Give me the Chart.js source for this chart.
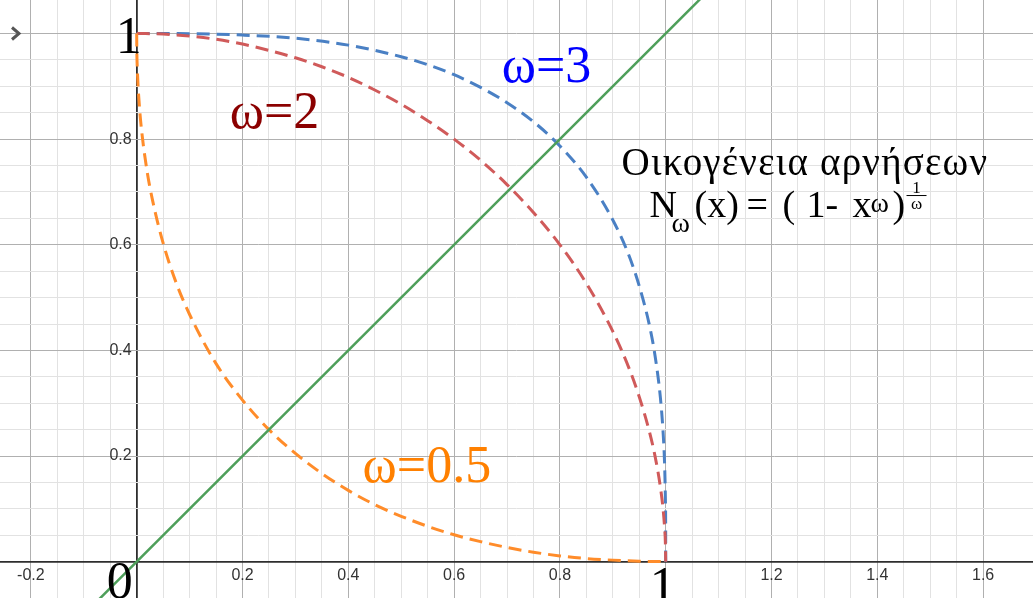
<!DOCTYPE html>
<html>
<head>
<meta charset="utf-8">
<title>Οικογένεια αρνήσεων</title>
<script src="https://cdn.jsdelivr.net/npm/chart.js@4/dist/chart.umd.min.js"></script>
<style>
  html, body { margin: 0; padding: 0; background: #fff; overflow: hidden; }
  #plot { display: block; }
</style>
</head>
<body>
<canvas id="plot" width="1033" height="598"></canvas>
<script>
// numbers written along the axes (0 and 1 get the big serif numerals)
const xTickLabels = [-0.2, 0.2, 0.4, 0.6, 0.8, 1.2, 1.4, 1.6];
const yTickLabels = [0.2, 0.4, 0.6, 0.8];

// omega = 0.5
const halfX = [0, 0.0002, 0.001, 0.005, 0.01, 0.02, 0.03, 0.05, 0.075, 0.1, 0.15, 0.2, 0.25, 0.3, 0.35, 0.4, 0.45, 0.5, 0.55, 0.6, 0.65, 0.7, 0.75, 0.8, 0.85, 0.9, 0.95, 1];
const halfY = [1, 0.972, 0.938, 0.864, 0.81, 0.737, 0.684, 0.603, 0.527, 0.468, 0.375, 0.306, 0.25, 0.205, 0.167, 0.135, 0.108, 0.086, 0.067, 0.051, 0.038, 0.027, 0.018, 0.011, 0.006, 0.003, 0.001, 0];

// omega = 2 (quarter circle)
const sqX = [0, 0.05, 0.1, 0.15, 0.2, 0.25, 0.3, 0.35, 0.4, 0.45, 0.5, 0.55, 0.6, 0.65, 0.7, 0.75, 0.8, 0.85, 0.9, 0.93, 0.95, 0.97, 0.98, 0.99, 0.995, 0.998, 0.9995, 1];
const sqY = [1, 0.999, 0.995, 0.989, 0.98, 0.968, 0.954, 0.937, 0.917, 0.893, 0.866, 0.835, 0.8, 0.76, 0.714, 0.661, 0.6, 0.527, 0.436, 0.368, 0.312, 0.243, 0.199, 0.141, 0.1, 0.063, 0.032, 0];

// omega = 3
const cubeX = [0, 0.1, 0.2, 0.3, 0.4, 0.5, 0.55, 0.6, 0.65, 0.7, 0.75, 0.8, 0.85, 0.9, 0.93, 0.95, 0.97, 0.98, 0.99, 0.995, 0.998, 0.9995, 0.99995, 1];
const cubeY = [1, 0.9997, 0.997, 0.991, 0.978, 0.956, 0.941, 0.922, 0.898, 0.869, 0.833, 0.787, 0.728, 0.647, 0.581, 0.522, 0.444, 0.389, 0.31, 0.246, 0.182, 0.114, 0.053, 0];

// the diagonal y = x
const diagX = [-0.3, 1.2];
const diagY = [-0.3, 1.2];

// visible window of the graph
const X_MIN = -0.2584, X_MAX = 1.6943;
const Y_MIN = -0.0687, Y_MAX = 1.0634;

function toPoints(xs, ys) {
  return xs.map((x, i) => ({x: x, y: ys[i]}));
}

function isStep(v, step) {
  let r = v / step;
  return Math.abs(r - Math.round(r)) < 1e-6;
}

function gridColor(ctx) {
  let v = ctx.tick ? ctx.tick.value : 0;
  if(Math.abs(v) < 1e-9) {
    return '#2e2e2e';
  }
  if(isStep(v, 0.2)) {
    return '#b0b0b0';
  }
  if(isStep(v, 0.05)) {
    return '#e2e2e2';
  }
  return 'rgba(0,0,0,0)';
}

function gridWidth(ctx) {
  let v = ctx.tick ? ctx.tick.value : 0;
  return Math.abs(v) < 1e-9 ? 1.8 : 1;
}

const SERIF = '"Liberation Serif", "Times New Roman", serif';

// labels, axis numbers and the formula box
const plotText = {
  id: 'plotText',
  afterDatasetsDraw(chart) {
    const ctx = chart.ctx;
    const xs = chart.scales.x;
    const ys = chart.scales.y;
    const x0 = xs.getPixelForValue(0);
    const y0 = ys.getPixelForValue(0);
    ctx.save();

    // small tick numbers
    ctx.fillStyle = '#333';
    ctx.font = '16px "Liberation Sans", Arial, sans-serif';
    ctx.textAlign = 'center';
    ctx.textBaseline = 'middle';
    for(let v of xTickLabels) {
      ctx.fillText(String(v), xs.getPixelForValue(v), y0 + 14);
    }
    ctx.textAlign = 'right';
    for(let v of yTickLabels) {
      ctx.fillText(String(v), x0 - 5, ys.getPixelForValue(v));
    }

    // big numerals at the origin and at 1
    ctx.fillStyle = '#000';
    ctx.font = '52px ' + SERIF;
    ctx.textAlign = 'center';
    ctx.textBaseline = 'alphabetic';
    ctx.fillText('1', x0 - 8, ys.getPixelForValue(1) + 20);
    ctx.fillText('0', x0 - 17, y0 + 36);
    ctx.fillText('1', xs.getPixelForValue(1) - 3, y0 + 41);

    // curve names
    ctx.textAlign = 'left';
    ctx.fillStyle = '#8b0000';
    ctx.fillText('ω=2', xs.getPixelForValue(0.176), ys.getPixelForValue(0.821));
    ctx.fillStyle = '#0000ff';
    ctx.fillText('ω=3', xs.getPixelForValue(0.69), ys.getPixelForValue(0.908));
    ctx.fillStyle = '#ff8000';
    ctx.fillText('ω=0.5', xs.getPixelForValue(0.427), ys.getPixelForValue(0.151));

    // title
    ctx.fillStyle = '#000';
    ctx.font = '39px ' + SERIF;
    ctx.letterSpacing = '1.2px';
    ctx.fillText('Οικογένεια αρνήσεων', xs.getPixelForValue(0.9166), ys.getPixelForValue(0.732));
    ctx.letterSpacing = '0px';

    // formula, pieces laid out from the left edge of the N
    let left = xs.getPixelForValue(0.9694);
    let base = ys.getPixelForValue(0.6525);
    ctx.font = '38px ' + SERIF;
    ctx.fillText('N', left, base);
    ctx.fillText('(x)', left + 45, base);
    ctx.fillText('=', left + 97, base);
    ctx.fillText('(', left + 133, base);
    ctx.fillText('1-', left + 157, base);
    ctx.fillText('x', left + 203, base);
    ctx.fillText(')', left + 243, base);
    ctx.font = '28px ' + SERIF;
    ctx.fillText('ω', left + 22, base + 15);
    ctx.fillText('ω', left + 221, base - 5);
    // exponent 1/ω
    let fx = left + 257;
    ctx.font = '17px ' + SERIF;
    ctx.textAlign = 'center';
    ctx.fillText('1', fx + 10, base - 24);
    ctx.fillText('ω', fx + 10, base - 8);
    ctx.strokeStyle = '#000';
    ctx.lineWidth = 1;
    ctx.beginPath();
    ctx.moveTo(fx, base - 21.5);
    ctx.lineTo(fx + 20, base - 21.5);
    ctx.stroke();

    // panel toggle chevron in the corner
    let cy = ys.getPixelForValue(1);
    ctx.strokeStyle = '#555';
    ctx.lineWidth = 3;
    ctx.beginPath();
    ctx.moveTo(12, cy - 6);
    ctx.lineTo(19, cy);
    ctx.lineTo(12, cy + 6);
    ctx.stroke();

    ctx.restore();
  }
};

function dashed(label, xs, ys, color) {
  return {
    label: label,
    data: toPoints(xs, ys),
    showLine: true,
    borderColor: color,
    borderWidth: 3,
    borderDash: [13, 7],
    pointRadius: 0,
    cubicInterpolationMode: 'monotone',
    fill: false
  };
}

function initPage() {
  const axisOpts = (min, max) => ({
    type: 'linear',
    min: min,
    max: max,
    bounds: 'ticks',
    ticks: {display: false, stepSize: 0.05, autoSkip: false},
    grid: {color: gridColor, lineWidth: gridWidth, drawTicks: false},
    border: {display: false}
  });
  const config = {
    type: 'scatter',
    data: {
      datasets: [
        {
          label: 'y = x',
          data: toPoints(diagX, diagY),
          showLine: true,
          borderColor: '#4e9f5a',
          borderWidth: 2.5,
          pointRadius: 0
        },
        dashed('ω=0.5', halfX, halfY, '#ff8c2a'),
        dashed('ω=2', sqX, sqY, '#d05a5a'),
        dashed('ω=3', cubeX, cubeY, '#4a80c4')
      ]
    },
    options: {
      responsive: false,
      animation: false,
      devicePixelRatio: 1,
      layout: {padding: 0},
      scales: {
        x: axisOpts(X_MIN, X_MAX),
        y: axisOpts(Y_MIN, Y_MAX)
      },
      plugins: {
        legend: {display: false},
        tooltip: {enabled: false}
      }
    },
    plugins: [plotText]
  };
  new Chart(document.getElementById('plot'), config);
}

window.addEventListener('load', initPage);
</script>
</body>
</html>
